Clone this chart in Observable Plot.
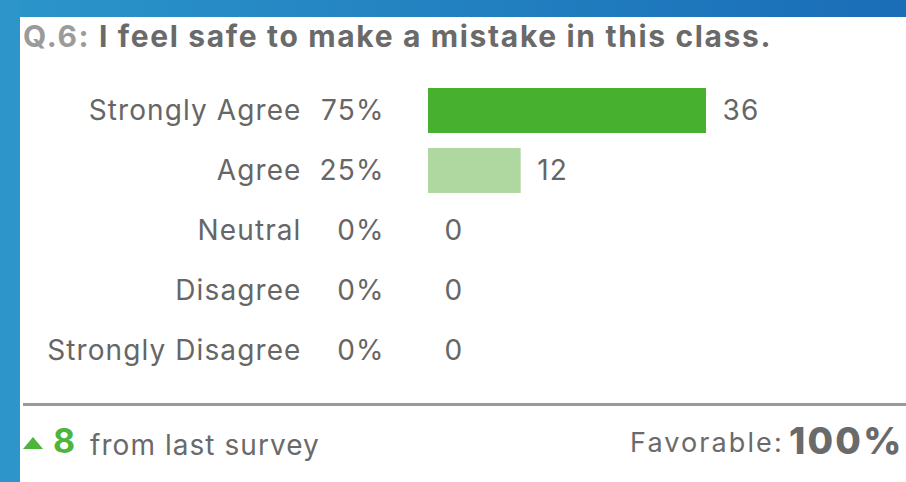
<!DOCTYPE html>
<html>
<head>
<meta charset="utf-8">
<script src="https://cdn.jsdelivr.net/npm/d3@7"></script>
<script src="https://cdn.jsdelivr.net/npm/@observablehq/plot@0.6"></script>
<style>
  html, body { margin: 0; padding: 0; width: 906px; height: 482px; overflow: hidden; background: #fff; font-family: Inter, sans-serif; }
  #topband { position: absolute; left: 0; top: 0; width: 906px; height: 17px; background: linear-gradient(to right, #2b95ca, #1a6db7); }
  #leftband { position: absolute; left: 0; top: 0; width: 20px; height: 482px; background: #2d95ca; }
  .t { position: absolute; white-space: nowrap; line-height: 1; }
  #title { left: 23px; top: 21px; font-size: 30px; font-weight: 700; color: #6a6a6a; letter-spacing: 1.65px; }
  #title .q { color: #9b9b9b; }
  #chart { position: absolute; left: 20px; top: 70px; }
  #rule { position: absolute; left: 23px; top: 403px; width: 883px; height: 3px; background: #999; }
  #tri { position: absolute; left: 23px; top: 437px; width: 0; height: 0; border-left: 10.5px solid transparent; border-right: 10.5px solid transparent; border-bottom: 12px solid #4cb53a; }
  #change { left: 53px; top: 424px; font-size: 34px; font-weight: 700; color: #4cb53a; }
  #from { left: 90px; top: 431px; font-size: 28px; color: #6a6a6a; letter-spacing: 1.05px; }
  #fav { left: 630px; top: 429px; font-size: 27px; color: #6a6a6a; letter-spacing: 2.1px; }
  #favval { left: 789px; top: 422px; font-size: 37px; font-weight: 800; color: #6a6a6a; letter-spacing: 2.2px; }
</style>
</head>
<body>
<div id="topband"></div>
<div id="leftband"></div>
<div id="title" class="t"></div>
<div id="chart"></div>
<div id="rule"></div>
<div id="tri"></div>
<div id="change" class="t"></div>
<div id="from" class="t"></div>
<div id="fav" class="t"></div>
<div id="favval" class="t"></div>
<script>
// ---- data ----
const titlePrefix = "Q.6:";
const titleText = " I feel safe to make a mistake in this class.";
const categories = ["Strongly Agree", "Agree", "Neutral", "Disagree", "Strongly Disagree"];
const counts = [36, 12, 0, 0, 0];
const percents = ["75%", "25%", "0%", "0%", "0%"];
const changeValue = "8";
const changeText = "from last survey";
const favorableLabel = "Favorable:";
const favorableValue = "100%";

// ---- text ----
const title = document.getElementById("title");
const q = document.createElement("span");
q.className = "q";
q.textContent = titlePrefix;
title.appendChild(q);
title.appendChild(document.createTextNode(titleText));
document.getElementById("change").textContent = changeValue;
document.getElementById("from").textContent = changeText;
document.getElementById("fav").textContent = favorableLabel;
document.getElementById("favval").textContent = favorableValue;

// ---- chart ----
const rows = categories.map((c, i) => ({category: c, count: counts[i], pct: percents[i]}));

const chart = Plot.plot({
  width: 886,
  height: 320,
  marginLeft: 408,
  marginRight: 200,
  marginTop: 10,
  marginBottom: 10,
  style: {fontFamily: "Inter, sans-serif", fontSize: "28px", color: "#666", background: "transparent", letterSpacing: "1.1px", overflow: "visible"},
  x: {domain: [0, 36], axis: null},
  y: {domain: categories, paddingInner: 0.25, paddingOuter: 0.125, tickSize: 0, tickPadding: 127, label: null},
  color: {domain: categories, range: ["#47b02e", "#aed8a0", "#cccccc", "#cccccc", "#cccccc"]},
  marks: [
    Plot.barX(rows, {x: "count", y: "category", fill: "category"}),
    Plot.text(rows, {y: "category", text: "pct", frameAnchor: "left", textAnchor: "end", dx: -44}),
    Plot.text(rows, {x: "count", y: "category", text: d => String(d.count), textAnchor: "start", dx: 16})
  ]
});
document.getElementById("chart").appendChild(chart);
</script>
</body>
</html>
